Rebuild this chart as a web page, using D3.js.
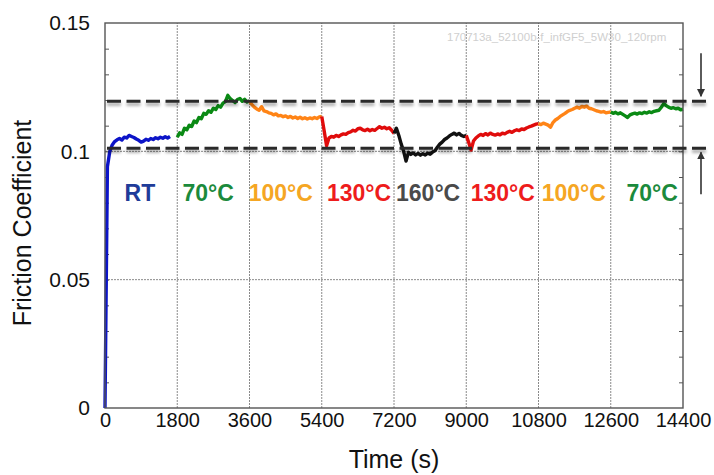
<!DOCTYPE html>
<html>
<head>
<meta charset="utf-8">
<script src="https://cdn.jsdelivr.net/npm/d3@7"></script>
<style>
  body { margin: 0; background: #fff; }
  svg { display: block; font-family: "Liberation Sans", Arial, sans-serif; }
</style>
</head>
<body>
<div id="chart"></div>
<script>
// segments of the test, one colour per temperature step
var segLabels = ["RT", "70°C", "100°C", "130°C", "160°C", "130°C", "100°C", "70°C"];
var segStart = [0, 1800, 3600, 5400, 7200, 9000, 10800, 12600];
var labelTimes = [870, 2570, 4380, 6330, 8050, 9910, 11680, 13630];
var sampleStep = 60; // seconds between samples

var muRT = [0, 0.094, 0.1, 0.1025, 0.1038, 0.1045, 0.105, 0.1044, 0.1055, 0.1052,
    0.1062, 0.1058, 0.1054, 0.1048, 0.1043, 0.1036, 0.104, 0.1047, 0.1043, 0.105,
    0.1046, 0.1053, 0.1049, 0.1055, 0.1051, 0.1057, 0.1052, 0.1058];
var mu70a = [0.1055, 0.1072, 0.1066, 0.109, 0.1084, 0.1102, 0.1097, 0.1118, 0.1112, 0.1132,
    0.1127, 0.1148, 0.1144, 0.1158, 0.1152, 0.1168, 0.1163, 0.1178, 0.1172, 0.1188,
    0.1194, 0.1218, 0.1205, 0.1198, 0.119, 0.1202, 0.1206, 0.1195, 0.1203, 0.1192, 0.1196];
var mu100a = [0.1196, 0.1182, 0.1172, 0.1165, 0.116, 0.1174, 0.1158, 0.1155, 0.115, 0.1148,
    0.1142, 0.1146, 0.1138, 0.114, 0.1135, 0.1138, 0.1132, 0.1136, 0.113, 0.1134,
    0.1128, 0.1133, 0.1127, 0.1131, 0.1126, 0.113, 0.1127, 0.1132, 0.1128, 0.1134, 0.1136];
var mu130a = [0.1136, 0.108, 0.1022, 0.1052, 0.1058, 0.1055, 0.1062, 0.1058, 0.1064, 0.1068,
    0.1066, 0.1073, 0.1076, 0.1082, 0.1079, 0.1088, 0.109, 0.1084, 0.1081, 0.1086,
    0.108, 0.1085, 0.1082, 0.1089, 0.1096, 0.109, 0.1094, 0.1088, 0.1092, 0.1082, 0.107];
var mu160 = [0.107, 0.109, 0.1062, 0.1028, 0.1, 0.0962, 0.0996, 0.0988, 0.0994, 0.0986,
    0.0992, 0.0985, 0.0991, 0.0986, 0.0993, 0.0989, 0.0997, 0.1002, 0.1016, 0.1028,
    0.1036, 0.1046, 0.1052, 0.106, 0.1066, 0.1071, 0.1064, 0.107, 0.1062, 0.1058, 0.1062];
var mu130b = [0.1062, 0.1035, 0.1005, 0.104, 0.1052, 0.106, 0.1066, 0.1062, 0.1069, 0.1064,
    0.1071, 0.1066, 0.1063, 0.1068, 0.1064, 0.1071, 0.1068, 0.1074, 0.1078, 0.1074,
    0.108, 0.1084, 0.1081, 0.1087, 0.1085, 0.1091, 0.1095, 0.1098, 0.1102, 0.1106, 0.1108];
var mu100b = [0.1108, 0.1104, 0.111, 0.1106, 0.1102, 0.1094, 0.1112, 0.1122, 0.1128, 0.1136,
    0.1142, 0.1148, 0.1155, 0.116, 0.1163, 0.1168, 0.1172, 0.1168, 0.1175, 0.1172,
    0.1176, 0.1168, 0.1166, 0.1162, 0.1158, 0.1156, 0.1153, 0.1155, 0.115, 0.1152, 0.1153];
var mu70b = [0.1153, 0.1148, 0.1152, 0.1146, 0.115, 0.1144, 0.1138, 0.1132, 0.1142, 0.1146,
    0.1149, 0.1145, 0.115, 0.1147, 0.1152, 0.1149, 0.1154, 0.1151, 0.1156, 0.1158,
    0.116, 0.1172, 0.1186, 0.1178, 0.1172, 0.1168, 0.117, 0.1166, 0.1168, 0.1162, 0.1164];
var segValues = [muRT, mu70a, mu100a, mu130a, mu160, mu130b, mu100b, mu70b];

var yTickValues = [0, 0.05, 0.1, 0.15];
var xTickValues = [0, 1800, 3600, 5400, 7200, 9000, 10800, 12600, 14400];
var bandLimits = [0.1195, 0.1012]; // dashed guide lines
var runName = "170713a_52100b-f_infGF5_5W30_120rpm";

var lineColors = ["#0c14c8", "#0a8a14", "#ff8416", "#e00c0c", "#111111", "#e00c0c", "#ff8416", "#0a8a14"];
var labelColors = ["#1f3c99", "#1b8a3c", "#f5a623", "#ee1c1c", "#4a4a4a", "#ee1c1c", "#f5a623", "#1b8a3c"];

var w = 714, h = 475;
var margin = {top: 23, right: 31, bottom: 67, left: 105};

var svg = d3.select("#chart").append("svg")
    .attr("width", w)
    .attr("height", h);

var defs = svg.append("defs");
defs.append("filter")
    .attr("id", "shadow")
    .attr("filterUnits", "userSpaceOnUse")
    .attr("x", 0).attr("y", 0)
    .attr("width", w).attr("height", h)
    .append("feDropShadow")
    .attr("dx", 0).attr("dy", 3)
    .attr("stdDeviation", 1.6)
    .attr("flood-color", "#000")
    .attr("flood-opacity", 0.35);
defs.append("marker")
    .attr("id", "head")
    .attr("viewBox", "0 0 10 10")
    .attr("refX", 9).attr("refY", 5)
    .attr("markerWidth", 8).attr("markerHeight", 8)
    .attr("markerUnits", "userSpaceOnUse")
    .attr("orient", "auto")
    .append("path")
    .attr("d", "M0,0 L10,5 L0,10 z")
    .attr("fill", "#333");

var x = d3.scaleLinear().domain([0, 14400]).range([margin.left, w - margin.right]);
var y = d3.scaleLinear().domain([0, 0.15]).range([h - margin.bottom, margin.top]);

// grid
svg.append("g").selectAll("line")
    .data(xTickValues.slice(1, -1))
    .enter().append("line")
    .attr("x1", function(d) { return x(d); })
    .attr("x2", function(d) { return x(d); })
    .attr("y1", y(0)).attr("y2", y(0.15))
    .attr("stroke", "#8a8a8a")
    .attr("stroke-width", 1)
    .attr("stroke-dasharray", "2,1");
svg.append("g").selectAll("line")
    .data(yTickValues.slice(1, -1))
    .enter().append("line")
    .attr("y1", function(d) { return y(d); })
    .attr("y2", function(d) { return y(d); })
    .attr("x1", x(0)).attr("x2", x(14400))
    .attr("stroke", "#8a8a8a")
    .attr("stroke-width", 1)
    .attr("stroke-dasharray", "2,1");

// run name in the corner
svg.append("text")
    .attr("x", 447).attr("y", 41)
    .attr("font-size", "11.5px")
    .attr("fill", "#cfcfcf")
    .text(runName);

// minor ticks on both sides
var minorTicks = d3.range(1, 15).map(function(i) { return i / 100; });
svg.append("g")
    .attr("transform", "translate(" + x(0) + ",0)")
    .call(d3.axisLeft(y).tickValues(minorTicks).tickSize(-4).tickFormat(""))
    .call(function(g) { g.select(".domain").remove(); g.selectAll("line").attr("stroke", "#555"); });
svg.append("g")
    .attr("transform", "translate(" + x(14400) + ",0)")
    .call(d3.axisRight(y).tickValues(minorTicks).tickSize(-4).tickFormat(""))
    .call(function(g) { g.select(".domain").remove(); g.selectAll("line").attr("stroke", "#555"); });

// tick labels
svg.append("g")
    .attr("transform", "translate(" + x(0) + ",0)")
    .call(d3.axisLeft(y).tickValues(yTickValues).tickSize(0).tickPadding(15)
        .tickFormat(function(d) { return String(d); }))
    .call(function(g) {
        g.select(".domain").remove();
        g.selectAll("text").attr("font-size", "21px").attr("font-family", "Liberation Sans, Arial").attr("fill", "#111");
    });
svg.append("g")
    .attr("transform", "translate(0," + y(0) + ")")
    .call(d3.axisBottom(x).tickValues(xTickValues).tickSize(0).tickPadding(5)
        .tickFormat(d3.format("d")))
    .call(function(g) {
        g.select(".domain").remove();
        g.selectAll("text").attr("font-size", "20px").attr("font-family", "Liberation Sans, Arial").attr("fill", "#111");
    });

// the friction trace, one path per segment
var line = d3.line()
    .x(function(d) { return x(d.t); })
    .y(function(d) { return y(d.v); });

svg.append("g").selectAll("path")
    .data(segValues.map(function(vals, i) {
        return vals.map(function(v, k) { return {t: segStart[i] + k * sampleStep, v: v}; });
    }))
    .enter().append("path")
    .attr("d", line)
    .attr("fill", "none")
    .attr("stroke", function(d, i) { return lineColors[i]; })
    .attr("stroke-width", 3.4)
    .attr("stroke-linejoin", "round");

// plot frame
svg.append("rect")
    .attr("x", x(0)).attr("y", y(0.15))
    .attr("width", x(14400) - x(0))
    .attr("height", y(0) - y(0.15))
    .attr("fill", "none")
    .attr("stroke", "#555")
    .attr("stroke-width", 1.4);

// dashed band limits
svg.append("g").selectAll("line")
    .data(bandLimits)
    .enter().append("line")
    .attr("x1", x(0) + 2).attr("x2", 711)
    .attr("y1", function(d) { return y(d); })
    .attr("y2", function(d) { return y(d); })
    .attr("stroke", "#2a2a2a")
    .attr("stroke-width", 3)
    .attr("stroke-dasharray", "14,5.5")
    .attr("filter", "url(#shadow)");

// arrows pointing at the band
svg.append("line")
    .attr("x1", 701).attr("x2", 701)
    .attr("y1", y(bandLimits[0]) - 48).attr("y2", y(bandLimits[0]) - 5)
    .attr("stroke", "#333").attr("stroke-width", 1.6)
    .attr("marker-end", "url(#head)");
svg.append("line")
    .attr("x1", 701).attr("x2", 701)
    .attr("y1", y(bandLimits[1]) + 46).attr("y2", y(bandLimits[1]) + 4)
    .attr("stroke", "#333").attr("stroke-width", 1.6)
    .attr("marker-end", "url(#head)");

// temperature labels
svg.append("g").selectAll("text")
    .data(segLabels)
    .enter().append("text")
    .attr("x", function(d, i) { return x(labelTimes[i]); })
    .attr("y", 201)
    .attr("text-anchor", "middle")
    .attr("font-size", "23px")
    .attr("font-weight", "bold")
    .attr("fill", function(d, i) { return labelColors[i]; })
    .text(function(d) { return d; });

// axis titles
svg.append("text")
    .attr("x", x(7200)).attr("y", 468)
    .attr("text-anchor", "middle")
    .attr("font-size", "25px")
    .attr("fill", "#111")
    .text("Time (s)");
svg.append("text")
    .attr("transform", "translate(31," + 223 + ") rotate(-90)")
    .attr("text-anchor", "middle")
    .attr("font-size", "25px")
    .attr("fill", "#111")
    .text("Friction Coefficient");
</script>
</body>
</html>
